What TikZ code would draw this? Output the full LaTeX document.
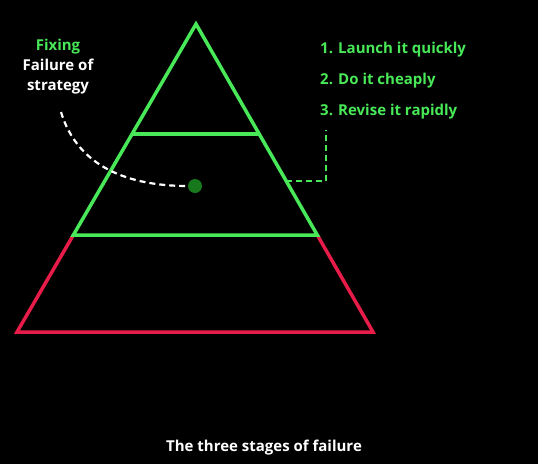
\documentclass[tikz,border=0pt]{standalone}
\usepackage{fontspec}
\setmainfont{Open Sans}
\usepackage{xcolor}
\usetikzlibrary{arrows.meta,positioning,calc,backgrounds}
\definecolor{stagegreen}{RGB}{72,232,88}
\definecolor{stagered}{RGB}{232,28,72}
\definecolor{dotgreen}{RGB}{24,120,28}
\tikzset{
  % 金字塔边线
  edge/.style={line width=3.5pt, line join=miter},
  % 文字
  lbl/.style={font=\fontsize{15}{20}\selectfont\bfseries, inner sep=0pt},
  % 虚线
  dashline/.style={dashed, dash pattern=on 6pt off 4pt, line width=2.2pt},
}
\begin{document}
\begin{tikzpicture}[x=1pt, y=-1pt,
        item/.style={lbl, text=stagegreen, anchor=west}
    ]
        % 背景
        \fill[black] (0,0) rectangle (538,464);
        \useasboundingbox (0,0) rectangle (538,464);

        % 金字塔顶点
        \coordinate (apex) at (196,24);
        \coordinate (bl) at (17,332);
        \coordinate (br) at (373,332);
        \coordinate (l1) at ($(apex)!110/308!(bl)$);
        \coordinate (r1) at ($(apex)!110/308!(br)$);
        \coordinate (l2) at ($(apex)!211/308!(bl)$);
        \coordinate (r2) at ($(apex)!211/308!(br)$);
        \coordinate (hook) at ($(apex)!157/308!(br)$);

        % 红色底层
        \draw[edge, stagered] (l2) -- (bl) -- (br) -- (r2);
        % 绿色上层
        \draw[edge, stagegreen] (l2) -- (apex) -- (r2) -- cycle;
        \draw[edge, stagegreen] (l1) -- (r1);

        % 左侧标签
        \node[lbl, text=stagegreen] (fix) at (58,47) {Fixing};
        \node[lbl, text=white, align=center, anchor=north] (fail) at (58,59) {Failure of\\strategy};

        \node[circle, fill=dotgreen, minimum size=14pt, inner sep=0pt] (dot) at (195,186) {};
        \coordinate (tail) at (61,112);
        \draw[dashline, white] (tail) .. controls (78,168) and (130,186) .. (dot.west);

        % 右侧列表
        \node[item] (s1) at (320,50) {1. Launch it quickly};
        \node[item] (s2) at (320,81) {2. Do it cheaply};
        \node[item] (s3) at (320,112) {3. Revise it rapidly};
        \coordinate (top) at (326,130);
        \draw[dashline, stagegreen] (hook) -| (top);

        % 标题
        \node[lbl, text=white] (cap) at (264,448) {The three stages of failure};
    \end{tikzpicture}
\end{document}
